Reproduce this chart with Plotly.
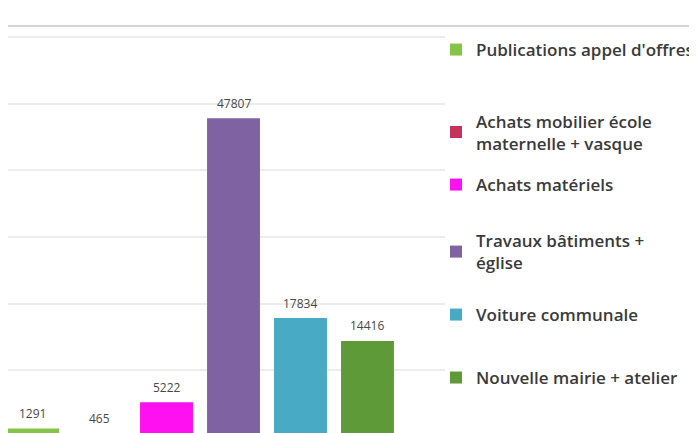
import plotly.graph_objects as go

categories = [
    "Publications appel d'offres",
    "Achats mobilier école<br>maternelle + vasque",
    "Achats matériels",
    "Travaux bâtiments +<br>église",
    "Voiture communale",
    "Nouvelle mairie + atelier",
]
values = [1291, 465, 5222, 47807, 17834, 14416]
colors = ["#86C447", "#C4345A", "#FF10F0", "#7E62A1", "#48AAC4", "#5E9A38"]
legend_y = [0.9627, 0.7575, 0.6269, 0.4602, 0.3035, 0.1468]

# page body has an 8px margin, so figure coordinates are page coordinates - 8
W, H = 697, 433
L, R, T, B = 0, 260, 27, 4
pw = W - L - R
ph = H - T - B

fig = go.Figure()
legend_names = ["legend"] + [f"legend{i}" for i in range(2, 7)]
for i, (name, val, col) in enumerate(zip(categories, values, colors)):
    fig.add_trace(go.Bar(
        x=[i], y=[val], name=name, marker_color=col, marker_line_width=0,
        width=0.79, legend=legend_names[i], showlegend=True,
        hoverinfo="name+y",
    ))
    fig.add_annotation(x=i, y=val, text=str(val), showarrow=False,
                       yshift=15, yanchor="middle", xanchor="center",
                       font=dict(family="Open Sans", size=12, color="#484848"))

leg_x = (428 - L) / pw
layout_legends = {}
for i, ln in enumerate(legend_names):
    layout_legends[ln] = dict(
        x=leg_x, y=legend_y[i], xanchor="left", yanchor="middle",
        bgcolor="rgba(0,0,0,0)", borderwidth=0, itemwidth=30,
        font=dict(family="Open Sans", size=17, color="#3a3a3a", weight=600),
    )

fig.update_layout(
    width=W, height=H,
    margin=dict(l=L, r=R, t=T, b=B, pad=0),
    paper_bgcolor="white", plot_bgcolor="white",
    barmode="overlay",
    showlegend=True,
    xaxis=dict(range=[-0.366, 6.157], showticklabels=False, showgrid=False,
               zeroline=False, showline=False, ticks=""),
    yaxis=dict(range=[0, 60300], tick0=0, dtick=10000, showticklabels=False,
               showgrid=True, gridcolor="#ececec", gridwidth=2,
               zeroline=False, showline=False, ticks=""),
    shapes=[dict(type="line", xref="paper", yref="paper",
                 x0=0, x1=(W - L) / pw, y0=(H - B - 18) / ph, y1=(H - B - 18) / ph,
                 line=dict(color="#d4d4d4", width=2))],
    **layout_legends,
)

fig.write_html("out.html")
